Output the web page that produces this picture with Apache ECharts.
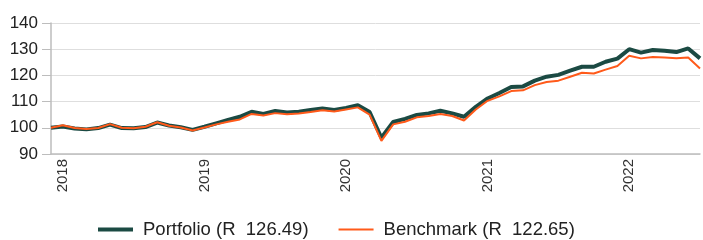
<!DOCTYPE html>
<html>
<head>
<meta charset="utf-8">
<script src="https://cdn.jsdelivr.net/npm/echarts@6/dist/echarts.min.js"></script>
<style>
  html, body { margin: 0; padding: 0; background: #fff; }
  #chart { width: 703px; height: 240px; }
</style>
</head>
<body>
<div id="chart"></div>
<script>
// month-end points, Dec 2017 .. Jul 2022
var months = [
  '2017-12',
  '2018-01', '2018-02', '2018-03', '2018-04', '2018-05', '2018-06', '2018-07', '2018-08', '2018-09', '2018-10', '2018-11', '2018-12',
  '2019-01', '2019-02', '2019-03', '2019-04', '2019-05', '2019-06', '2019-07', '2019-08', '2019-09', '2019-10', '2019-11', '2019-12',
  '2020-01', '2020-02', '2020-03', '2020-04', '2020-05', '2020-06', '2020-07', '2020-08', '2020-09', '2020-10', '2020-11', '2020-12',
  '2021-01', '2021-02', '2021-03', '2021-04', '2021-05', '2021-06', '2021-07', '2021-08', '2021-09', '2021-10', '2021-11', '2021-12',
  '2022-01', '2022-02', '2022-03', '2022-04', '2022-05', '2022-06', '2022-07'
];
var portfolio = [
  100.0,
  100.5, 99.7, 99.4, 99.9, 101.2, 99.9, 99.8, 100.3, 102.0, 100.9, 100.2, 99.2,
  100.4, 101.7, 103.0, 104.2, 106.1, 105.3, 106.4, 105.8, 106.1, 106.8, 107.4, 106.8,
  107.6, 108.6, 106.0, 96.2, 102.2, 103.4, 104.9, 105.5, 106.5, 105.5, 104.2, 108.0,
  111.2, 113.3, 115.6, 115.8, 118.0, 119.5, 120.2, 121.8, 123.3, 123.3, 125.2, 126.4,
  130.0, 128.7, 129.7, 129.4, 128.9, 130.3, 126.49
];
var benchmark = [
  100.0,
  101.0, 99.9, 99.5, 99.9, 101.4, 100.0, 99.8, 100.4, 102.1, 100.8, 100.1, 99.0,
  100.1, 101.3, 102.3, 103.2, 105.3, 104.7, 105.6, 105.2, 105.5, 106.0, 106.7, 106.2,
  107.0, 107.8, 105.0, 95.0, 101.3, 102.3, 104.0, 104.5, 105.3, 104.5, 102.8, 107.0,
  110.3, 112.0, 114.0, 114.3, 116.3, 117.5, 118.0, 119.5, 121.0, 120.7, 122.2, 123.6,
  127.5, 126.5, 127.0, 126.8, 126.5, 126.8, 122.65
];
var seriesNames = ['Portfolio (R  126.49)', 'Benchmark (R  122.65)'];
var yTicks = [90, 100, 110, 120, 130, 140];

var chart = echarts.init(document.getElementById('chart'));
var font = 'Liberation Sans, Arial, sans-serif';
var green = '#1b4a43', orange = '#ff5a1a';

var option = {
  animation: false,
  textStyle: { fontFamily: font },
  grid: { left: 51, right: 3, top: 23, bottom: 86 },
  legend: {
    data: [
      { name: seriesNames[0], icon: 'rect', itemStyle: { color: green } },
      // thinner bar for the benchmark: the extra moveTo points widen the box
      { name: seriesNames[1], icon: 'path://M0,0 M0,4 M0,1 L35,1 L35,3 L0,3 Z', itemStyle: { color: orange } }
    ],
    left: 93,
    top: 215,
    itemWidth: 35,
    itemHeight: 4,
    itemGap: 30,
    textStyle: { fontSize: 18.5, color: '#222', fontFamily: font, padding: [0, 0, 0, 5] }
  },
  xAxis: {
    type: 'category',
    data: months,
    boundaryGap: false,
    axisLine: { lineStyle: { color: '#bdbdbd', width: 1.5 } },
    axisTick: { show: false },
    axisLabel: {
      rotate: 90,
      margin: 5,
      fontSize: 15,
      color: '#333',
      interval: function (i, v) { return v.slice(5) === '01'; },
      formatter: function (v) { return v.slice(0, 4); }
    }
  },
  yAxis: {
    type: 'value',
    min: yTicks[0],
    max: yTicks[yTicks.length - 1],
    interval: 10,
    axisLine: { show: true, lineStyle: { color: '#bdbdbd', width: 1.5 } },
    axisTick: { show: true, length: 9, lineStyle: { color: '#bdbdbd' } },
    axisLabel: { fontSize: 17, color: '#222', margin: 13 },
    splitLine: { lineStyle: { color: '#dedede' } }
  },
  series: [
    {
      name: seriesNames[0],
      type: 'line',
      data: portfolio,
      symbol: 'none',
      lineStyle: { color: green, width: 4 },
      itemStyle: { color: green }
    },
    {
      name: seriesNames[1],
      type: 'line',
      data: benchmark,
      symbol: 'none',
      lineStyle: { color: orange, width: 2 },
      itemStyle: { color: orange }
    }
  ]
};
chart.setOption(option);
</script>
</body>
</html>
